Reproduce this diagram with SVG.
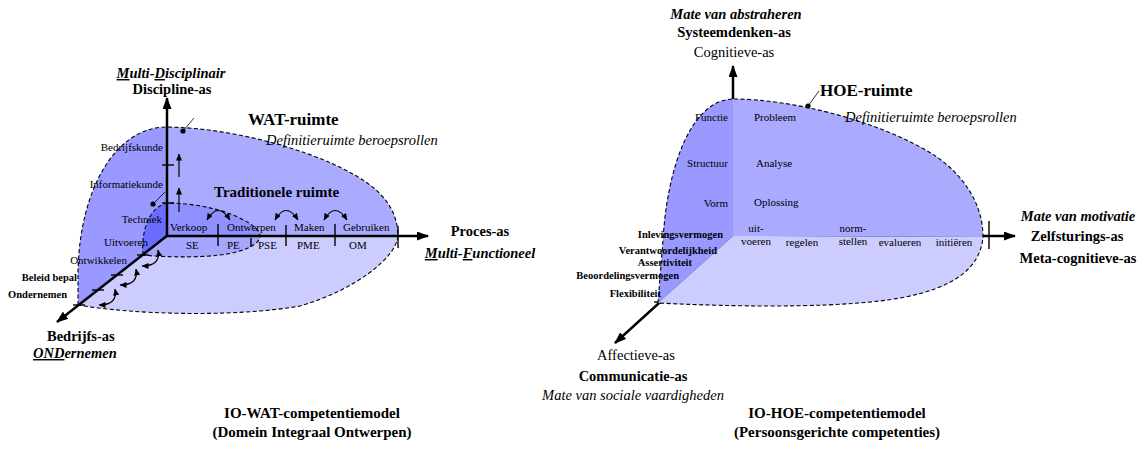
<svg xmlns="http://www.w3.org/2000/svg" width="1144" height="450" viewBox="0 0 1144 450" font-family="'Liberation Serif', 'DejaVu Serif', serif">
<defs>
<marker id="axisHead" viewBox="0 0 12 9" refX="11" refY="4.5" markerWidth="12" markerHeight="9" orient="auto" markerUnits="userSpaceOnUse"><path d="M0,0 L12,4.5 L0,9 Z" fill="#000"/></marker>
<marker id="tip" viewBox="0 0 7 6" refX="6.5" refY="3" markerWidth="7" markerHeight="6" orient="auto-start-reverse" markerUnits="userSpaceOnUse"><path d="M0,0 L7,3 L0,6 Z" fill="#000"/></marker>
</defs>
<style>
text{font-family:'Liberation Serif','DejaVu Serif',serif;fill:#000}
.axis{stroke:#000;stroke-width:2.5;fill:none;marker-end:url(#axisHead)}
.tick{stroke:#000;stroke-width:1.4;fill:none}
.edge{fill:none;stroke:#000;stroke-width:1.1;stroke-dasharray:4 2.5}
.swap{fill:none;stroke:#000;stroke-width:1.2;marker-start:url(#tip);marker-end:url(#tip)}
.up{stroke:#000;stroke-width:1.2;marker-end:url(#tip)}
.lead{stroke:#000;stroke-width:0.8}
.lbl{font-size:11px}
.lblb{font-size:10.5px;font-weight:bold}
.ax{font-size:14.5px;font-weight:bold}
.axi{font-size:14.5px;font-weight:bold;font-style:italic}
.axr{font-size:14.5px}
.it{font-size:14.5px;font-style:italic}
.title{font-size:17px;font-weight:bold}
.sub{font-size:15px;font-weight:bold}
.cap{font-size:15px;font-weight:bold;text-anchor:middle}
.u{text-decoration:underline}
.mid{text-anchor:middle}
.end{text-anchor:end}
.faceL{fill:#9999ff}
.faceT{fill:#aaaaff}
.faceB{fill:#ccccff}
</style>

<!-- ===== WAT model (left) ===== -->
<g id="wat-space">
  <path class="faceL" d="M167,127 L167,236 L78,305 L78,270 C80,190 115,127 167,127 Z"/>
  <path class="faceT" d="M167,127 C240,128 330,155 370,185 C390,200 398,218 398,236 L167,236 Z"/>
  <path class="faceB" d="M167,236 L398,236 C396,258 355,290 300,306 C230,318 130,314 78,305 Z"/>
  <path class="edge" d="M78,305 L78,270 C80,190 115,127 167,127 C240,128 330,155 370,185 C390,200 398,218 398,236 C396,258 355,290 300,306 C230,318 130,314 78,305"/>
  <circle cx="183" cy="131" r="2.6"/>
  <line class="lead" x1="183" y1="131" x2="194" y2="118"/>
</g>

<g id="traditional-space">
  <path fill="#6b6bff" d="M167,203 L167,236 L143,255 C141,235 147,208 167,203 Z"/>
  <path fill="#9090ff" d="M167,203 C200,203 235,212 253,226 C258,230 260,233 260,236 L167,236 Z"/>
  <path fill="#a6a6ff" d="M167,236 L260,236 C260,244 245,252 220,255 C195,258 160,257 143,255 Z"/>
  <path class="edge" d="M143,255 C141,235 147,208 167,203 C200,203 235,212 253,226 C258,230 260,233 260,236 C260,244 245,252 220,255 C195,258 160,257 143,255"/>
  <circle cx="153" cy="204" r="2.6"/>
  <line class="lead" x1="153" y1="204" x2="165" y2="192"/>
</g>

<g id="connectors">
  <!-- WAT axes -->
  <line class="axis" x1="167" y1="237" x2="167" y2="98"/>
  <line class="axis" x1="166" y1="236" x2="428" y2="236"/>
  <line class="axis" x1="168" y1="235" x2="57" y2="322"/>
  <!-- WAT ticks -->
  <line class="tick" x1="162" y1="165" x2="174" y2="165"/>
  <line class="tick" x1="162" y1="203" x2="174" y2="203"/>
  <line class="tick" x1="218" y1="224" x2="218" y2="246"/>
  <line class="tick" x1="251" y1="238" x2="251" y2="247"/>
  <line class="tick" x1="286" y1="225" x2="286" y2="246"/>
  <line class="tick" x1="335" y1="224" x2="335" y2="246"/>
  <line class="tick" x1="398" y1="226" x2="398" y2="248"/>
  <line class="tick" x1="137" y1="255" x2="149" y2="255"/>
  <line class="tick" x1="111" y1="275" x2="123" y2="275"/>
  <line class="tick" x1="92" y1="290" x2="104" y2="290"/>
  <line class="tick" x1="73" y1="305" x2="85" y2="305"/>
  <!-- WAT arrows -->
  <line class="up" x1="179" y1="177" x2="179" y2="154"/>
  <line class="up" x1="179" y1="212" x2="179" y2="188"/>
  <path class="swap" d="M207,220 Q218,201 230,220"/>
  <path class="swap" d="M275,220 Q286,201 298,220"/>
  <path class="swap" d="M324,220 Q335,201 347,220"/>
  <path class="swap" d="M142,266 Q161,266 158,250"/>
  <path class="swap" d="M120,285 Q139,285 136,269"/>
  <path class="swap" d="M99,305 Q118,305 115,289"/>

  <!-- HOE axes -->
  <line class="axis" x1="733" y1="237" x2="733" y2="66"/>
  <line class="axis" x1="732" y1="236" x2="1015" y2="236"/>
  <line class="axis" x1="734" y1="235" x2="615" y2="343"/>
  <!-- HOE ticks -->
  <line class="tick" x1="727" y1="147" x2="742" y2="147"/>
  <line class="tick" x1="727" y1="193" x2="742" y2="193"/>
  <line class="tick" x1="777" y1="220" x2="777" y2="248"/>
  <line class="tick" x1="832" y1="221" x2="832" y2="248"/>
  <line class="tick" x1="876" y1="220" x2="876" y2="247"/>
  <line class="tick" x1="926" y1="220" x2="926" y2="247"/>
  <line class="tick" x1="989" y1="221" x2="989" y2="249"/>
  <line class="tick" x1="713" y1="249" x2="725" y2="249"/>
  <line class="tick" x1="699" y1="261" x2="711" y2="261"/>
  <line class="tick" x1="685" y1="274" x2="697" y2="274"/>
  <line class="tick" x1="670" y1="288" x2="682" y2="288"/>
  <line class="tick" x1="654" y1="302" x2="666" y2="302"/>
  <!-- HOE arrows -->
  <line class="up" x1="746" y1="162" x2="746" y2="132"/>
  <line class="up" x1="746" y1="205" x2="746" y2="176"/>
  <path class="swap" d="M765,221 Q777,201 789,222"/>
  <path class="swap" d="M818,222 Q830,201 843,221"/>
  <path class="swap" d="M865,221 Q876,201 888,221"/>
  <path class="swap" d="M913,222 Q925,201 937,222"/>
  <path class="swap" d="M727,255 Q739,254 736,243"/>
  <path class="swap" d="M712,268 Q724,267 721,256"/>
  <path class="swap" d="M697,282 Q709,281 706,270"/>
  <path class="swap" d="M682,296 Q694,295 691,284"/>
</g>

<g id="wat-labels" font-family="'Liberation Serif', 'DejaVu Serif', serif">
  <text class="axi mid" x="171" y="78"><tspan class="u">M</tspan>ulti-<tspan class="u">D</tspan>isciplinair</text>
  <text class="ax mid" x="172" y="94">Discipline-as</text>
  <text class="title" x="248" y="125">WAT-ruimte</text>
  <text class="it" x="266" y="145">Definitieruimte beroepsrollen</text>
  <text class="sub" x="214" y="197">Traditionele ruimte</text>
  <text class="ax mid" x="480" y="236">Proces-as</text>
  <text class="axi mid" x="480" y="258"><tspan class="u">M</tspan>ulti-<tspan class="u">F</tspan>unctioneel</text>
  <text class="ax" x="47" y="341">Bedrijfs-as</text>
  <text class="axi" x="33" y="358"><tspan class="u">OND</tspan>ernemen</text>

  <text class="lbl end" x="163" y="151">Bedrijfskunde</text>
  <text class="lbl end" x="163" y="188">Informatiekunde</text>
  <text class="lbl end" x="162" y="223">Techniek</text>
  <text class="lbl end" x="148" y="246">Uitvoeren</text>
  <text class="lbl end" x="127" y="264">Ontwikkelen</text>
  <text class="lblb end" x="77" y="281">Beleid bepal</text>
  <text class="lblb end" x="67" y="298">Ondernemen</text>

  <text class="lbl" x="170" y="231">Verkoop</text>
  <text class="lbl" x="227" y="231">Ontwerpen</text>
  <text class="lbl" x="294" y="231">Maken</text>
  <text class="lbl" x="343" y="231">Gebruiken</text>
  <text class="lbl" x="186" y="249">SE</text>
  <text class="lbl" x="227" y="249">PE</text>
  <text class="lbl" x="258" y="249">PSE</text>
  <text class="lbl" x="297" y="249">PME</text>
  <text class="lbl" x="349" y="249">OM</text>

  <text class="cap" x="312" y="418">IO-WAT-competentiemodel</text>
  <text class="cap" x="312" y="437">(Domein Integraal Ontwerpen)</text>
</g>

<!-- ===== HOE model (right) ===== -->
<g id="hoe-space">
  <path class="faceL" d="M733,99 L733,236 L658,303 L663,240 C667,170 690,100 733,99 Z"/>
  <path class="faceT" d="M733,99 C790,99 880,120 937,157 C965,177 983,205 983,237 L733,236 Z"/>
  <path class="faceB" d="M733,236 L983,237 C980,268 955,288 900,298 C850,307 760,308 658,303 Z"/>
  <path class="edge" d="M658,303 L663,240 C667,170 690,100 733,99 C790,99 880,120 937,157 C965,177 983,205 983,237 C980,268 955,288 900,298 C850,307 760,308 658,303"/>
  <circle cx="808" cy="106" r="2.6"/>
  <line class="lead" x1="808" y1="106" x2="819" y2="91"/>
</g>

<g id="hoe-labels" font-family="'Liberation Serif', 'DejaVu Serif', serif">
  <text class="axi mid" x="736" y="19">Mate van abstraheren</text>
  <text class="ax mid" x="734" y="37">Systeemdenken-as</text>
  <text class="axr mid" x="734" y="57">Cognitieve-as</text>
  <text class="title" x="820" y="96">HOE-ruimte</text>
  <text class="it" x="845" y="122">Definitieruimte beroepsrollen</text>
  <text class="axi mid" x="1078" y="221">Mate van motivatie</text>
  <text class="ax mid" x="1077" y="241">Zelfsturings-as</text>
  <text class="ax mid" x="1078" y="263">Meta-cognitieve-as</text>
  <text class="axr mid" x="636" y="360">Affectieve-as</text>
  <text class="ax mid" x="633" y="381">Communicatie-as</text>
  <text class="it mid" x="633" y="400">Mate van sociale vaardigheden</text>

  <text class="lbl end" x="728" y="121">Functie</text>
  <text class="lbl end" x="728" y="167">Structuur</text>
  <text class="lbl end" x="728" y="207">Vorm</text>
  <text class="lbl" x="754" y="121">Probleem</text>
  <text class="lbl" x="756" y="167">Analyse</text>
  <text class="lbl" x="754" y="206">Oplossing</text>

  <text class="lbl mid" x="756" y="232">uit-</text>
  <text class="lbl mid" x="756" y="245">voeren</text>
  <text class="lbl mid" x="802" y="246">regelen</text>
  <text class="lbl mid" x="853" y="232">norm-</text>
  <text class="lbl mid" x="853" y="245">stellen</text>
  <text class="lbl mid" x="900" y="246">evalueren</text>
  <text class="lbl mid" x="954" y="246">initiëren</text>

  <text class="lblb end" x="723" y="238">Inlevingsvermogen</text>
  <text class="lblb end" x="717" y="254">Verantwoordelijkheid</text>
  <text class="lblb end" x="692" y="266">Assertiviteit</text>
  <text class="lblb end" x="679" y="279">Beoordelingsvermogen</text>
  <text class="lblb end" x="661" y="297">Flexibiliteit</text>

  <text class="cap" x="837" y="418">IO-HOE-competentiemodel</text>
  <text class="cap" x="837" y="437">(Persoonsgerichte competenties)</text>
</g>
</svg>
